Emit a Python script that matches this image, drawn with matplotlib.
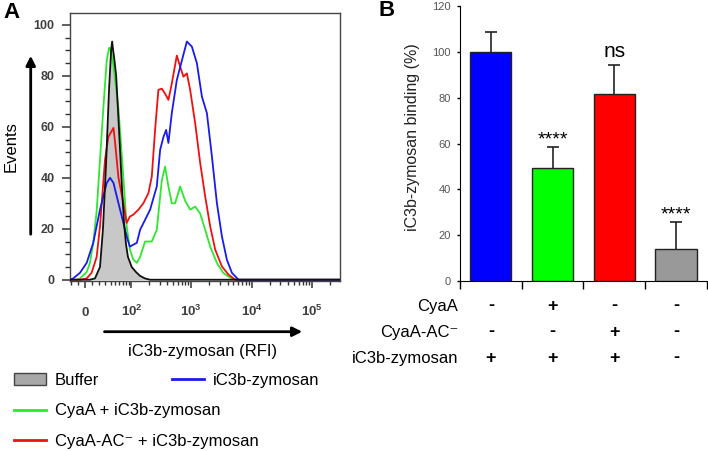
import matplotlib
matplotlib.use('Agg')
import matplotlib.pyplot as plt
import numpy as np
from matplotlib.patches import Patch
from matplotlib.lines import Line2D
import matplotlib.transforms as mtransforms

plt.rcParams['font.family'] = ['Liberation Sans', 'DejaVu Sans']
plt.rcParams['mathtext.fontset'] = 'custom'
plt.rcParams['mathtext.rm'] = 'Liberation Sans'
plt.rcParams['mathtext.bf'] = 'Liberation Sans:bold'

# --- panel A: flow cytometry histograms (RFI vs % of max events) ---
buf_x = [-21, 6.7, 13.7, 21.2, 26.0, 31.2, 36.9, 41.0, 43.1, 45.3, 47.6, 52.2, 57.2, 62.4,
         67.9, 73.8, 79.9, 86.6, 101, 120, 141, 171, 208, 290000]
buf_y = [0, 0, 0.5, 5, 20, 45, 75, 90, 93.5, 90, 87, 80, 65, 50,
         35, 22, 14, 9, 5, 3, 1.5, 0.5, 0, 0]

grn_x = [-21, -10.8, -6.7, 2.3, 6.7, 11.3, 16.2, 21.2, 26.5, 32.5, 36.9, 38.9, 45.3, 52.2,
         57.9, 71.7, 82.2, 93.7, 107, 124, 141, 171, 222, 269, 326, 370, 420, 478, 542, 657,
         795, 963, 1166, 1411, 1707, 2066, 2669, 3391, 4430, 5723, 290000]
grn_y = [0, 0, 0.5, 3, 6.6, 14.5, 27, 47, 67, 86, 91, 91, 85, 75,
         67, 40, 21, 12, 8, 6.6, 9, 15, 15, 19.6, 39, 44.4, 36.6, 30, 30, 36.6,
         31, 27.5, 28.7, 26, 19.6, 13, 6.6, 2.7, 0.8, 0, 0]

red_x = [-21, -6.7, 2.3, 9.0, 16.2, 21.2, 29.4, 35.5, 41.0, 46.0, 49.8, 57.9, 71.7, 82.2,
         93.7, 107, 132, 160, 195, 222, 252, 286, 326, 370, 420, 478, 579, 657, 745, 849,
         963, 1166, 1411, 1707, 2066, 2501, 3229, 4150, 5364, 290000]
red_y = [0, 0, 0.5, 2.7, 9, 21, 47, 56, 58, 59.6, 53.6, 40, 30, 22.3,
         24.8, 25.5, 27.5, 30, 34, 40.5, 58.8, 74.5, 75, 73, 70.6, 77, 88, 83.7, 79.7, 81,
         74.5, 61.4, 45.8, 32.7, 20.9, 11.8, 5.2, 2, 0, 0]

blu_x = [-21, -16.2, -6.7, 2.3, 11.3, 21.2, 32.5, 38.9, 46.0, 57.9, 71.7, 82.2, 93.7, 124,
         141, 171, 208, 269, 306, 347, 385, 420, 478, 579, 701, 849, 1028, 1244, 1506, 1822,
         2205, 2669, 3229, 3905, 4728, 6083, 290000]
blu_y = [0, 0.5, 2.7, 6.6, 14.5, 27.5, 38, 40, 38, 30, 22.3, 17, 13, 14.5,
         19.6, 23.5, 27.5, 36.6, 51, 56, 58.8, 53.7, 65.4, 78.4, 86, 93.5, 91.5, 85, 71.9, 65.4,
         48.4, 30, 17, 7.8, 2.7, 0, 0]

x_ticks = [0, 1e2, 1e3, 1e4, 1e5]
x_ticklabels = ['0', r'$\mathbf{10^{2}}$', r'$\mathbf{10^{3}}$', r'$\mathbf{10^{4}}$', r'$\mathbf{10^{5}}$']
x_minor = [-20, -10, 10, 20, 30, 40, 50, 60, 70, 80, 90,
           200, 300, 400, 500, 600, 700, 800, 900,
           2000, 3000, 4000, 5000, 6000, 7000, 8000, 9000,
           20000, 30000, 40000, 50000, 60000, 70000, 80000, 90000, 200000]

# --- panel B: bar chart ---
binding = [100, 49.2, 81.7, 13.8]
binding_sd = [8.6, 9.4, 12.5, 12.1]
bar_colors = ['#0000ff', '#00ff00', '#ff0000', '#999999']
signif = ['', '****', 'ns', '****']
row_labels = ['CyaA', 'CyaA-AC⁻', 'iC3b-zymosan']
cyaa = ['-', '+', '-', '-']
cyaa_ac = ['-', '-', '+', '-']
zymosan = ['+', '+', '+', '-']

W, H = 708, 451
fig = plt.figure(figsize=(W / 100, H / 100), dpi=100)

# ---------- A ----------
axA = fig.add_axes([70 / W, 1 - 281 / H, 270 / W, 268 / H])
w = 35.0
axA.set_xscale('function', functions=(lambda x: np.arcsinh(np.asarray(x) / w),
                                      lambda y: w * np.sinh(y)))
axA.fill_between(buf_x, buf_y, color='#c8c8c8', lw=0, zorder=1)
axA.plot(grn_x, grn_y, color='#2ee82e', lw=1.3, zorder=2)
axA.plot(red_x, red_y, color='#f01010', lw=1.3, zorder=3)
axA.plot(blu_x, blu_y, color='#1a1aee', lw=1.3, zorder=4)
axA.plot(buf_x, buf_y, color='#111111', lw=1.3, zorder=5)
axA.set_xlim(-21, 2.9e5)
axA.set_ylim(-0.5, 104.7)
axA.set_xticks(x_ticks)
axA.set_xticklabels(x_ticklabels)
axA.set_xticks(x_minor, minor=True)
axA.set_yticks([0, 20, 40, 60, 80, 100])
axA.set_yticks(np.arange(0, 105, 5), minor=True)
axA.tick_params(axis='both', which='major', width=1.1, color='#333333', labelcolor='#404040')
axA.tick_params(axis='y', which='major', length=6, pad=5, labelsize=9)
axA.tick_params(axis='y', which='minor', length=3.5, width=1, color='#333333')
axA.tick_params(axis='x', which='major', length=5, pad=20, labelsize=9.5)
axA.tick_params(axis='x', which='minor', length=3, width=1, color='#333333')
for lbl in axA.get_xticklabels() + axA.get_yticklabels():
    lbl.set_fontweight('bold')
for lbl in axA.get_xticklabels():
    lbl.set_verticalalignment('baseline')
for sp in axA.spines.values():
    sp.set_color('#444444')
    sp.set_linewidth(1)

fig.text(3 / W, 1 - 12 / H, 'A', fontsize=16, fontweight='bold', ha='left', va='center')
fig.text(11 / W, 1 - 147 / H, 'Events', rotation=90, fontsize=12, ha='center', va='center')
fig.text(202.5 / W, 1 - 351.7 / H, 'iC3b-zymosan (RFI)', fontsize=12, ha='center', va='center')
fig.add_artist(matplotlib.patches.FancyArrowPatch((30.7 / W, 1 - 237 / H), (30.7 / W, 1 - 53 / H),
                                                  transform=fig.transFigure, arrowstyle='-|>',
                                                  mutation_scale=14, lw=2, color='k'))
fig.add_artist(matplotlib.patches.FancyArrowPatch((101.7 / W, 1 - 331.7 / H), (305 / W, 1 - 331.7 / H),
                                                  transform=fig.transFigure, arrowstyle='-|>',
                                                  mutation_scale=14, lw=2, color='k'))

leg1 = fig.legend(handles=[Patch(facecolor='#a8a8a8', edgecolor='#444444'),
                           Line2D([], [], color='#2ee82e', lw=2),
                           Line2D([], [], color='#f01010', lw=2)],
                  labels=['Buffer', 'CyaA + iC3b-zymosan', 'CyaA-AC⁻ + iC3b-zymosan'],
                  loc='upper left', bbox_to_anchor=(14 / W, 1 - 373 / H), frameon=False,
                  fontsize=12, handlelength=1.9, handletextpad=0.55, labelspacing=0.92,
                  borderpad=0, borderaxespad=0)
leg2 = fig.legend(handles=[Line2D([], [], color='#1a1aee', lw=2)], labels=['iC3b-zymosan'],
                  loc='upper left', bbox_to_anchor=(172 / W, 1 - 373 / H), frameon=False,
                  fontsize=12, handlelength=1.9, handletextpad=0.55, borderpad=0, borderaxespad=0)

# ---------- B ----------
axB = fig.add_axes([460 / W, 1 - 281 / H, 246.7 / W, 275 / H])
xpos = np.arange(len(binding))
axB.bar(xpos, binding, width=0.67, color=bar_colors, edgecolor='#222222', linewidth=1, zorder=3)
eb = axB.errorbar(xpos, binding, yerr=[np.zeros(len(binding)), binding_sd], fmt='none',
                  ecolor='#222222', elinewidth=1.2, capsize=4, capthick=1.2, zorder=2)
eb[1][0].set_visible(False)  # no lower caps
for i, s in enumerate(signif):
    if not s:
        continue
    off = 8 if s == 'ns' else 2
    size = 15 if s == 'ns' else 14
    axB.annotate(s, (xpos[i], binding[i] + binding_sd[i]), xytext=(0, off),
                 textcoords='offset pixels', ha='center', va='baseline', fontsize=size)
axB.set_xlim(-0.5, 3.5)
axB.set_ylim(0, 120)
axB.set_yticks(np.arange(0, 121, 20))
axB.set_xticks(np.arange(-0.5, 4, 1))
axB.set_xticklabels([])
axB.tick_params(axis='y', length=2.5, width=1, pad=4, labelsize=8, labelcolor='#555555')
axB.tick_params(axis='x', length=6, width=1)
axB.spines['top'].set_visible(False)
axB.spines['right'].set_visible(False)

fig.text(378 / W, 1 - 11 / H, 'B', fontsize=16, fontweight='bold', ha='left', va='center')
fig.text(413 / W, 1 - 136.7 / H, 'iC3b-zymosan binding (%)', rotation=90, fontsize=11.5,
         ha='center', va='center', color='#222222')

trans = mtransforms.blended_transform_factory(axB.transData, fig.transFigure)
rows_y = [306, 332, 358]
for lab, signs, yy in zip(row_labels, [cyaa, cyaa_ac, zymosan], rows_y):
    fig.text(458 / W, 1 - yy / H, lab, fontsize=12, ha='right', va='center')
    for i, s in enumerate(signs):
        axB.text(xpos[i], 1 - yy / H, s, transform=trans, fontsize=13, fontweight='bold',
                 ha='center', va='center', clip_on=False)

fig.savefig('out.png', dpi=100)
